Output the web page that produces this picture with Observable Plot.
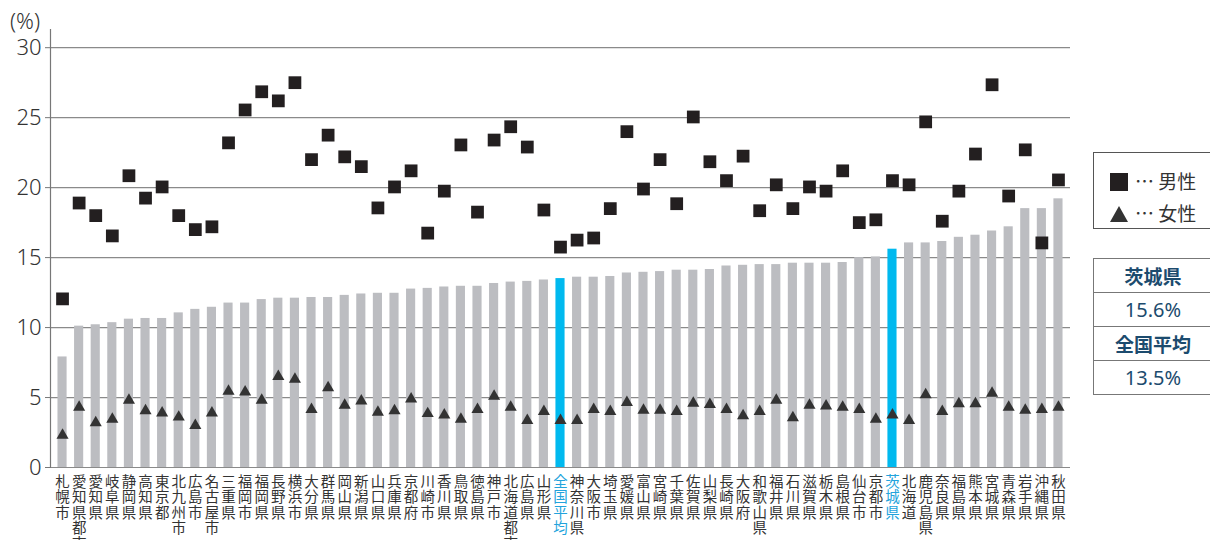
<!DOCTYPE html>
<html>
<head>
<meta charset="utf-8">
<script src="https://cdn.jsdelivr.net/npm/d3@7"></script>
<script src="https://cdn.jsdelivr.net/npm/@observablehq/plot@0.6"></script>
<style>
  html, body { margin: 0; padding: 0; background: #fff; }
  #wrap { position: relative; width: 1210px; height: 540px; overflow: hidden; font-family: "Noto Sans CJK JP", "Noto Sans", sans-serif; }
  #unit { position: absolute; left: 10px; top: 5px; font-size: 22px; color: #333; font-family: "Noto Sans", sans-serif; font-weight: 300; }
  #leg1 { position: absolute; left: 1093px; top: 152px; width: 140px; height: 77px; border: 1px solid #555; box-sizing: border-box; }
  .lrow { position: absolute; left: 16px; height: 22px; font-size: 19px; color: #333; line-height: 22px; }
  .sq { display: inline-block; width: 18px; height: 18px; background: #231f20; vertical-align: -2px; margin-right: 7px; }
  .tri { display: inline-block; width: 0; height: 0; border-left: 9px solid transparent; border-right: 9px solid transparent; border-bottom: 16px solid #333; vertical-align: -1px; margin-right: 7px; }
  #leg2 { position: absolute; left: 1093px; top: 258px; border-collapse: collapse; width: 140px; }
  #leg2 td { border: 1px solid #777; height: 33px; padding: 0; text-align: center; color: #1c4b6e; font-size: 19px; padding-right: 20px; }
  #leg2 td.n { font-family: "Noto Sans", sans-serif; font-size: 20px; }
  #leg2 td.h { font-weight: bold; }
</style>
</head>
<body>
<div id="wrap">
  <div id="chart"></div>
  <div id="unit">(%)</div>
  <div id="leg1">
    <div class="lrow" style="top:17px"><span class="sq"></span>… 男性</div>
    <div class="lrow" style="top:49px"><span class="tri"></span>… 女性</div>
  </div>
  <table id="leg2">
    <tr><td class="h">茨城県</td></tr>
    <tr><td class="n">15.6%</td></tr>
    <tr><td class="h">全国平均</td></tr>
    <tr><td class="n">13.5%</td></tr>
  </table>
</div>
<script>
const names = ["札幌市","愛知県都市","愛知県","岐阜県","静岡県","高知県","東京都","北九州市","広島市","名古屋市","三重県","福岡市","福岡県","長野県","横浜市",
  "大分県","群馬県","岡山県","新潟県","山口県","兵庫県","京都府","川崎市","香川県","鳥取県","徳島県","神戸市","北海道都市","広島県","山形県",
  "全国平均","神奈川県","大阪市","埼玉県","愛媛県","富山県","宮崎県","千葉県","佐賀県","山梨県","長崎県","大阪府","和歌山県","福井県","石川県",
  "滋賀県","栃木県","島根県","仙台市","京都市","茨城県","北海道","鹿児島県","奈良県","福島県","熊本県","宮城県","青森県","岩手県","沖縄県","秋田県"];
const total = [7.9,10.1,10.2,10.35,10.6,10.65,10.65,11.05,11.3,11.45,11.75,11.75,12.0,12.1,12.1,
  12.15,12.15,12.3,12.4,12.45,12.45,12.75,12.8,12.9,12.95,12.95,13.15,13.25,13.3,13.4,
  13.5,13.6,13.6,13.65,13.9,13.95,14.0,14.1,14.1,14.15,14.4,14.45,14.5,14.5,14.6,
  14.6,14.6,14.65,15.0,15.05,15.6,16.05,16.05,16.15,16.45,16.6,16.9,17.2,18.5,18.5,19.2];
const male = [12.05,18.9,18.0,16.55,20.85,19.25,20.05,18.0,17.0,17.2,23.2,25.55,26.85,26.2,27.5,
  22.0,23.75,22.2,21.5,18.55,20.05,21.2,16.75,19.75,23.05,18.25,23.4,24.35,22.9,18.4,
  15.75,16.25,16.4,18.5,24.0,19.9,22.0,18.85,25.05,21.85,20.5,22.25,18.35,20.2,18.5,
  20.05,19.75,21.2,17.5,17.7,20.5,20.2,24.7,17.6,19.75,22.4,27.35,19.4,22.7,16.05,20.55];
const female = [2.3,4.3,3.2,3.45,4.8,4.05,3.9,3.6,3.0,3.9,5.45,5.4,4.8,6.5,6.3,
  4.15,5.7,4.45,4.75,3.95,4.05,4.9,3.85,3.75,3.45,4.15,5.1,4.3,3.35,4.0,
  3.35,3.35,4.15,4.0,4.65,4.1,4.1,4.0,4.6,4.5,4.15,3.7,4.0,4.8,3.55,
  4.45,4.4,4.3,4.15,3.45,3.75,3.35,5.2,4.0,4.55,4.55,5.3,4.3,4.1,4.15,4.3];
const highlight = ["全国平均","茨城県"];
const yTicks = [0,5,10,15,20,25,30];

const data = names.map((name, i) => ({name, total: total[i], male: male[i], female: female[i]}));
const isHl = d => highlight.includes(d.name);

const chart = Plot.plot({
  width: 1210,
  height: 540,
  marginLeft: 50,
  marginRight: 140,
  marginTop: 29,
  marginBottom: 73,
  style: {fontFamily: "'Noto Sans', sans-serif", background: "#fff"},
  x: {domain: names, padding: 0.45, axis: null},
  y: {domain: [0, 31.3], axis: null},
  marks: [
    Plot.gridY(yTicks, {stroke: "#8a8a8a", strokeOpacity: 1, strokeWidth: 1.2}),
    Plot.frame({anchor: "left", stroke: "#777", strokeWidth: 1.2}),
    Plot.axisY(yTicks, {tickSize: 5, tickPadding: 4, fontSize: 22, fill: "#333", stroke: "#777", label: null, fontWeight: 300}),
    Plot.barY(data, {x: "name", y: "total", fill: d => isHl(d) ? "#00b9ef" : "#bcbdc1"}),
    Plot.dot(data, {x: "name", y: "male", symbol: "square", r: 7.2, fill: "#231f20", stroke: "none"}),
    Plot.dot(data, {x: "name", y: "female", symbol: "triangle", r: 4.5, fill: "#333", stroke: "none"}),
    Plot.text(data, {x: "name", y: d => 0, text: d => d.name.split("").join("\n"), lineAnchor: "top", dy: 8,
      fontSize: 14.5, lineHeight: 1.07, fontFamily: "'Noto Sans CJK JP', sans-serif",
      fill: d => isHl(d) ? "#22a3dc" : "#333"})
  ]
});
document.getElementById("chart").appendChild(chart);
</script>
</body>
</html>
